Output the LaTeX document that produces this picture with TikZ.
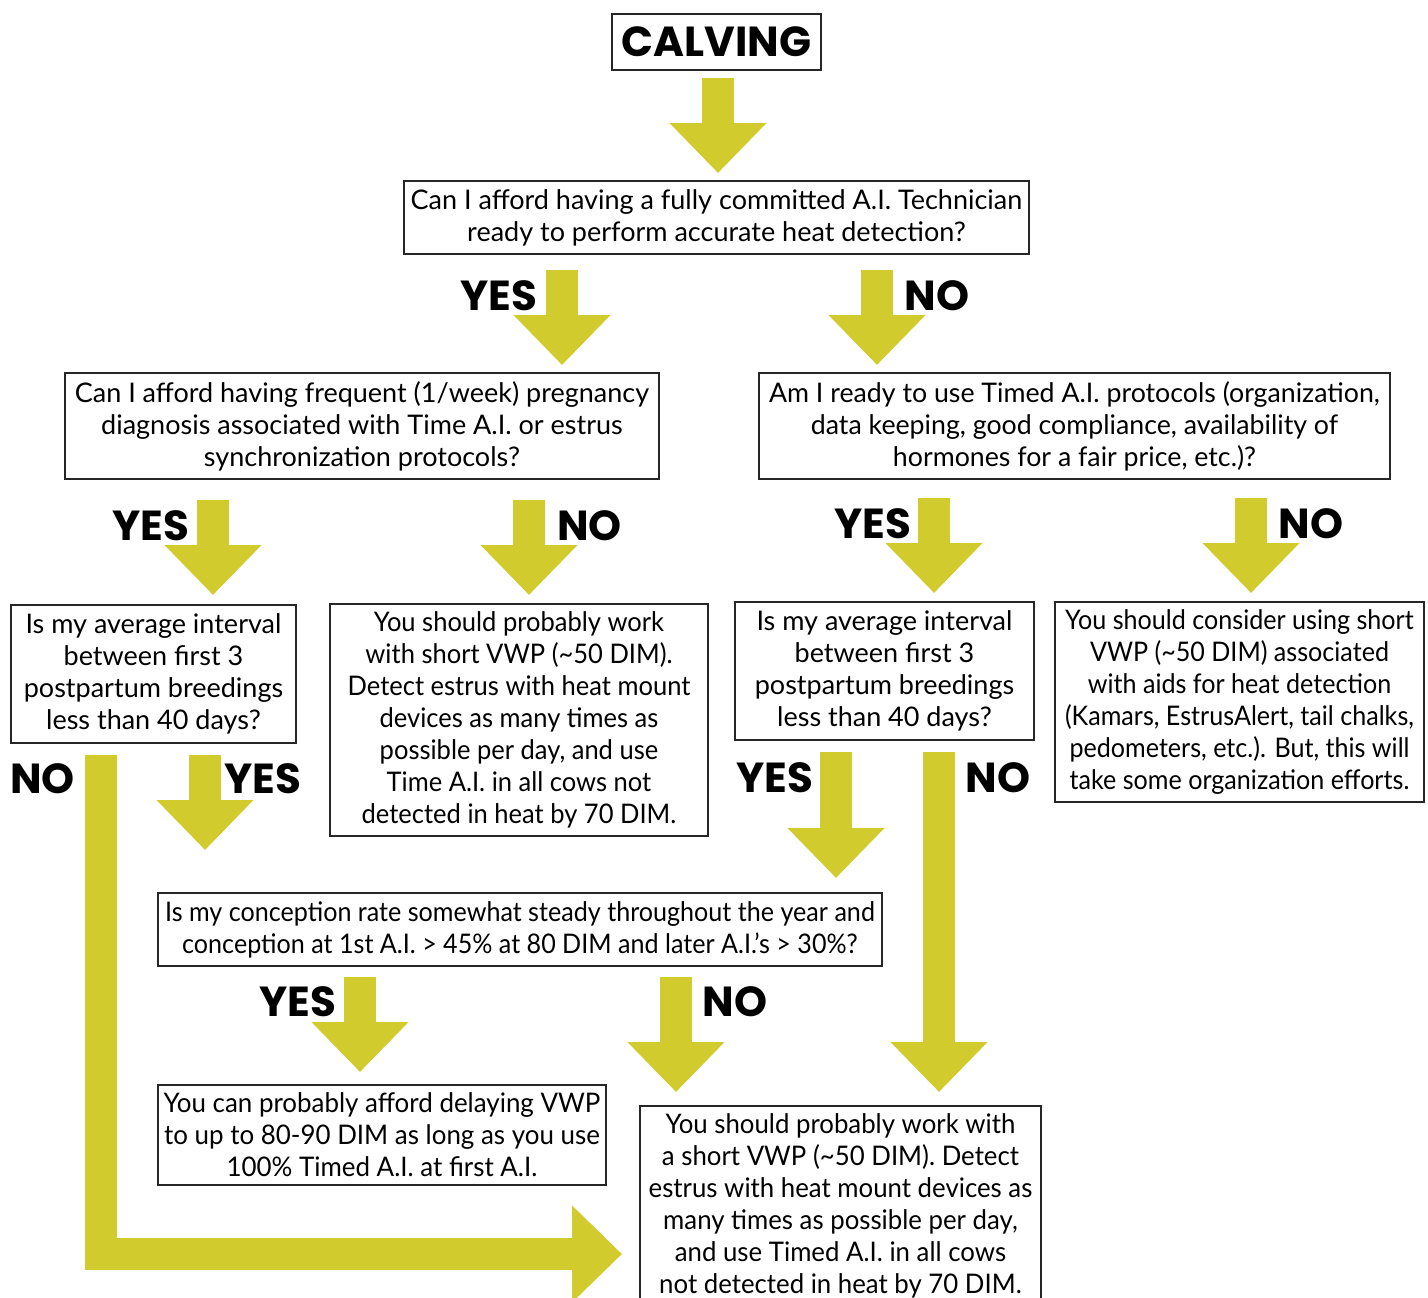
\documentclass[tikz,border=0pt]{standalone}
\usepackage{fontspec}
\setmainfont{Lato}
\newfontfamily\headfont{Poppins}
\usetikzlibrary{arrows.meta}
\definecolor{ylw}{RGB}{210,203,45}
\begin{document}
\begin{tikzpicture}[x=1pt,y=-1pt,
  qbox/.style={draw=black!85, line width=1.3pt, inner sep=0pt, align=center,
    font={\fontsize{27}{32}\selectfont\addfontfeatures{FakeStretch=#1}}},
  qbox/.default=1.0,
  lbl/.style={font=\headfont\bfseries\fontsize{42}{42}\selectfont, inner sep=0pt, anchor=base},
  barrow/.style={draw=ylw, line width=32pt, line join=miter,
    -{Triangle[length=50pt,width=94pt]}},
]
\useasboundingbox[fill=white] (0,0) rectangle (1428,1298);

% boxes
\node[qbox, minimum width=209pt, minimum height=56pt,
  font=\headfont\bfseries\fontsize{42}{42}\selectfont] (calv) at (716.5,42) {CALVING};
\node[qbox=1.0, minimum width=625pt, minimum height=73pt] (q1) at (716.5,217.5)
  {Can I afford having a fully committed A.I. Technician\\ready to perform accurate heat detection?};
\node[qbox=1.0, minimum width=594pt, minimum height=106pt] (q2) at (362,426)
  {Can I afford having frequent (1/week) pregnancy\\diagnosis associated with Time A.I. or estrus\\synchronization protocols?};
\node[qbox=0.99, minimum width=631pt, minimum height=106pt] (q3) at (1074.5,426)
  {Am I ready to use Timed A.I. protocols (organization,\\data keeping, good compliance, availability of\\hormones for a fair price, etc.)?};
\node[qbox=1.0, minimum width=285pt, minimum height=138pt] (b1) at (153.5,674)
  {Is my average interval\\between first 3\\postpartum breedings\\less than 40 days?};
\node[qbox=0.945, minimum width=378pt, minimum height=232pt] (b2) at (519,720)
  {You should probably work\\with short VWP (\textasciitilde50 DIM).\\Detect estrus with heat mount\\devices as many times as\\possible per day, and use\\Time A.I. in all cows not\\detected in heat by 70 DIM.};
\node[qbox=1.0, minimum width=299pt, minimum height=138pt] (b3) at (884.5,671)
  {Is my average interval\\between first 3\\postpartum breedings\\less than 40 days?};
\node[qbox=0.93, minimum width=369pt, minimum height=200pt] (b4) at (1239.5,702)
  {You should consider using short\\VWP (\textasciitilde50 DIM) associated\\with aids for heat detection\\(Kamars, EstrusAlert, tail chalks,\\pedometers, etc.). But, this will\\take some organization efforts.};
\node[qbox=0.93, minimum width=724pt, minimum height=73pt] (q4) at (520,929.5)
  {Is my conception rate somewhat steady throughout the year and\\conception at 1st A.I. > 45\% at 80 DIM and later A.I.’s > 30\%?};
\node[qbox=0.96, minimum width=448pt, minimum height=100pt] (q5) at (382,1135)
  {You can probably afford delaying VWP\\to up to 80-90 DIM as long as you use\\100\% Timed A.I. at first A.I.};
\node[qbox=0.955, minimum width=401pt, minimum height=200pt] (q6) at (840.5,1206)
  {You should probably work with\\a short VWP (\textasciitilde50 DIM). Detect\\estrus with heat mount devices as\\many times as possible per day,\\and use Timed A.I. in all cows\\not detected in heat by 70 DIM.};

% arrow coordinates
\coordinate (a0s) at (718,78);   \coordinate (a0e) at (718,173);
\coordinate (a1ys) at (562,270); \coordinate (a1ye) at (562,365);
\coordinate (a1ns) at (877,270); \coordinate (a1ne) at (877,365);
\coordinate (a2ys) at (213,500); \coordinate (a2ye) at (213,595);
\coordinate (a2ns) at (529,500); \coordinate (a2ne) at (529,595);
\coordinate (a3ys) at (934,498); \coordinate (a3ye) at (934,593);
\coordinate (a3ns) at (1251,498);\coordinate (a3ne) at (1251,593);
\coordinate (a4ys) at (205,755); \coordinate (a4ye) at (205,850);
\coordinate (a4ns) at (101,755); \coordinate (a4ne) at (622,1254);
\coordinate (a5ys) at (836,752); \coordinate (a5ye) at (836,878);
\coordinate (a5ns) at (939,752); \coordinate (a5ne) at (939,1092);
\coordinate (a6ys) at (360,977); \coordinate (a6ye) at (360,1072);
\coordinate (a6ns) at (676,977); \coordinate (a6ne) at (676,1092);

\draw[barrow] (a0s) -- (a0e);
\draw[barrow] (a1ys) -- (a1ye);
\draw[barrow] (a1ns) -- (a1ne);
\draw[barrow] (a2ys) -- (a2ye);
\draw[barrow] (a2ns) -- (a2ne);
\draw[barrow] (a3ys) -- (a3ye);
\draw[barrow] (a3ns) -- (a3ne);
\draw[barrow] (a4ys) -- (a4ye);
\draw[barrow] (a4ns) |- (a4ne);
\draw[barrow] (a5ys) -- (a5ye);
\draw[barrow] (a5ns) -- (a5ne);
\draw[barrow] (a6ys) -- (a6ye);
\draw[barrow] (a6ns) -- (a6ne);

% labels
\node[lbl] (y1) at (499,310) {YES};
\node[lbl] (n1) at (937,310) {NO};
\node[lbl] (y2) at (151,540) {YES};
\node[lbl] (n2) at (589.5,540) {NO};
\node[lbl] (y3) at (873,538) {YES};
\node[lbl] (n3) at (1311,538) {NO};
\node[lbl] (n4) at (42.5,793) {NO};
\node[lbl] (y4) at (263,793) {YES};
\node[lbl] (y5) at (775,792) {YES};
\node[lbl] (n5) at (998,792) {NO};
\node[lbl] (y6) at (298,1016) {YES};
\node[lbl] (n6) at (735,1016) {NO};
\end{tikzpicture}
\end{document}
